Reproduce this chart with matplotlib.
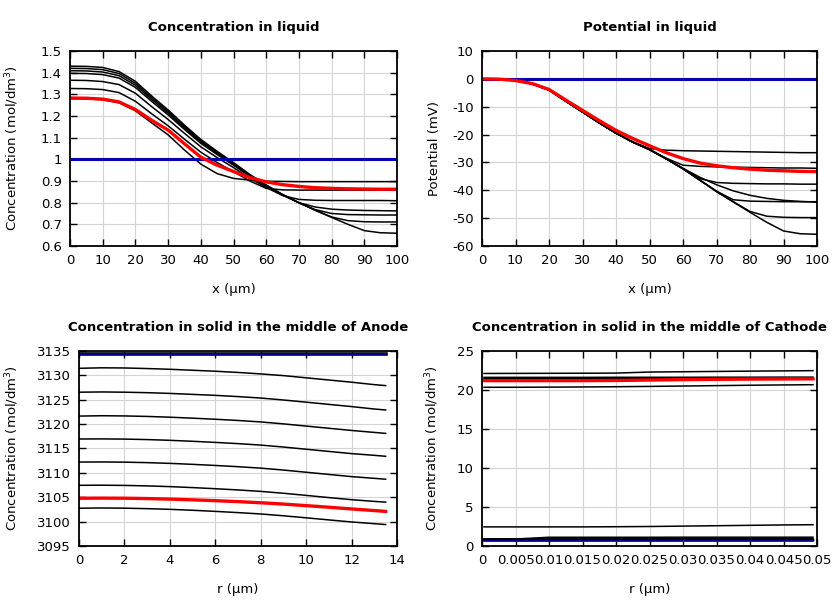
import numpy as np
import matplotlib
matplotlib.use('Agg')
import matplotlib.pyplot as plt
from matplotlib.ticker import FuncFormatter, MultipleLocator

# ---- Concentration in liquid (x in um) ----
x_liq = [0, 5, 10, 15, 20, 25, 30, 35, 40, 45, 50, 55, 60, 65, 70, 75, 80, 85, 90, 95, 100]
cl_black = [
    [1.430, 1.429, 1.424, 1.405, 1.360, 1.292, 1.228, 1.158, 1.092, 1.037, 0.985, 0.930, 0.882, 0.838, 0.800, 0.765, 0.732, 0.700, 0.671, 0.661, 0.659],
    [1.420, 1.419, 1.414, 1.396, 1.351, 1.284, 1.221, 1.152, 1.086, 1.032, 0.981, 0.927, 0.880, 0.837, 0.800, 0.765, 0.734, 0.717, 0.712, 0.711, 0.711],
    [1.409, 1.408, 1.403, 1.386, 1.342, 1.276, 1.213, 1.145, 1.080, 1.027, 0.977, 0.924, 0.878, 0.836, 0.799, 0.768, 0.750, 0.745, 0.744, 0.743, 0.743],
    [1.397, 1.396, 1.391, 1.375, 1.332, 1.267, 1.205, 1.138, 1.074, 1.022, 0.973, 0.921, 0.876, 0.835, 0.800, 0.780, 0.770, 0.766, 0.764, 0.763, 0.762],
    [1.365, 1.364, 1.359, 1.345, 1.305, 1.243, 1.184, 1.120, 1.058, 1.008, 0.962, 0.913, 0.870, 0.833, 0.815, 0.811, 0.810, 0.810, 0.810, 0.810, 0.809],
    [1.327, 1.326, 1.322, 1.308, 1.268, 1.210, 1.155, 1.093, 1.033, 0.985, 0.943, 0.900, 0.866, 0.859, 0.858, 0.858, 0.858, 0.858, 0.858, 0.858, 0.858],
    [1.280, 1.279, 1.275, 1.261, 1.224, 1.168, 1.113, 1.043, 0.978, 0.934, 0.912, 0.904, 0.899, 0.898, 0.897, 0.897, 0.897, 0.897, 0.897, 0.897, 0.897],
]
cl_red = [1.283, 1.282, 1.278, 1.265, 1.230, 1.180, 1.135, 1.072, 1.010, 0.973, 0.944, 0.916, 0.896, 0.883, 0.875, 0.869, 0.866, 0.864, 0.863, 0.862, 0.862]
cl_blue = [1.0] * len(x_liq)

# ---- Potential in liquid (mV) ----
phi_black = [
    [0, -0.1, -0.6, -1.8, -4.0, -8.0, -11.9, -15.8, -19.5, -22.6, -25.0, -25.6, -25.8, -25.9, -26.0, -26.1, -26.2, -26.3, -26.4, -26.5, -26.5],
    [0, -0.1, -0.6, -1.8, -4.0, -8.0, -11.9, -15.8, -19.5, -22.7, -25.3, -28.5, -31.0, -31.4, -31.6, -31.7, -31.8, -31.9, -32.0, -32.0, -32.1],
    [0, -0.1, -0.6, -1.8, -4.0, -8.0, -11.9, -15.8, -19.5, -22.7, -25.4, -28.7, -32.2, -35.8, -37.2, -37.5, -37.6, -37.7, -37.7, -37.8, -37.8],
    [0, -0.1, -0.6, -1.8, -4.0, -8.0, -11.9, -15.8, -19.5, -22.7, -25.4, -28.7, -32.1, -35.3, -38.0, -40.2, -41.8, -42.9, -43.6, -44.0, -44.3],
    [0, -0.1, -0.6, -1.8, -4.0, -8.0, -11.9, -15.8, -19.5, -22.7, -25.4, -28.7, -32.3, -36.3, -40.3, -43.4, -43.9, -44.0, -44.1, -44.1, -44.1],
    [0, -0.1, -0.6, -1.8, -4.0, -8.0, -11.9, -15.8, -19.5, -22.7, -25.4, -28.7, -32.3, -36.3, -40.4, -44.1, -47.6, -49.3, -49.7, -49.8, -49.8],
    [0, -0.1, -0.6, -1.8, -4.0, -8.0, -11.9, -15.8, -19.5, -22.7, -25.4, -28.7, -32.3, -36.4, -40.5, -44.2, -47.9, -51.5, -54.6, -55.6, -55.8],
]
phi_red = [0, -0.1, -0.6, -1.7, -3.8, -7.6, -11.3, -15.0, -18.5, -21.4, -24.0, -26.5, -28.6, -30.2, -31.2, -31.9, -32.4, -32.8, -33.0, -33.2, -33.3]
phi_blue = [0.0] * len(x_liq)

# ---- Solid concentration, anode middle (r in um) ----
r_an = [0, 1, 2, 3, 4, 5, 6, 7, 8, 9, 10, 11, 12, 13, 13.5]
ca_black = [
    [3131.45, 3131.55, 3131.52, 3131.40, 3131.25, 3131.05, 3130.85, 3130.60, 3130.30, 3129.95, 3129.50, 3129.05, 3128.60, 3128.10, 3127.90],
    [3126.55, 3126.60, 3126.55, 3126.45, 3126.30, 3126.10, 3125.90, 3125.65, 3125.35, 3124.95, 3124.50, 3124.05, 3123.60, 3123.10, 3122.90],
    [3121.65, 3121.72, 3121.68, 3121.58, 3121.42, 3121.22, 3121.00, 3120.75, 3120.45, 3120.05, 3119.60, 3119.15, 3118.70, 3118.30, 3118.10],
    [3116.95, 3116.97, 3116.93, 3116.83, 3116.68, 3116.48, 3116.25, 3116.00, 3115.70, 3115.30, 3114.85, 3114.40, 3113.95, 3113.60, 3113.40],
    [3112.22, 3112.24, 3112.20, 3112.10, 3111.95, 3111.75, 3111.52, 3111.27, 3110.97, 3110.58, 3110.13, 3109.68, 3109.23, 3108.88, 3108.70],
    [3107.45, 3107.47, 3107.43, 3107.33, 3107.18, 3106.98, 3106.75, 3106.50, 3106.20, 3105.82, 3105.38, 3104.93, 3104.50, 3104.15, 3104.00],
    [3102.75, 3102.80, 3102.76, 3102.66, 3102.52, 3102.33, 3102.10, 3101.85, 3101.57, 3101.20, 3100.78, 3100.35, 3099.93, 3099.58, 3099.40],
    [3134.30] * 15,
]
ca_red = [3104.80, 3104.82, 3104.80, 3104.73, 3104.62, 3104.47, 3104.30, 3104.10, 3103.87, 3103.60, 3103.28, 3102.95, 3102.60, 3102.27, 3102.10]
ca_blue = [3134.30] * 15

# ---- Solid concentration, cathode middle (r in um) ----
r_ca = [0.0003, 0.005, 0.01, 0.015, 0.02, 0.025, 0.03, 0.035, 0.04, 0.045, 0.0494]
cc_black = [
    [22.12, 22.13, 22.14, 22.15, 22.17, 22.30, 22.34, 22.38, 22.42, 22.45, 22.48],
    [21.62, 21.62, 21.62, 21.62, 21.63, 21.63, 21.63, 21.64, 21.64, 21.65, 21.65],
    [21.45, 21.45, 21.45, 21.45, 21.45, 21.47, 21.50, 21.52, 21.54, 21.55, 21.56],
    [20.35, 20.35, 20.37, 20.39, 20.42, 20.46, 20.51, 20.56, 20.61, 20.65, 20.68],
    [2.45, 2.45, 2.45, 2.45, 2.47, 2.50, 2.55, 2.60, 2.65, 2.70, 2.73],
    [0.85, 0.90, 1.12, 1.12, 1.12, 1.12, 1.13, 1.13, 1.13, 1.13, 1.13],
    [0.92, 0.92, 0.92, 0.92, 0.92, 0.92, 0.93, 0.93, 0.93, 0.93, 0.93],
    [0.78, 0.78, 0.78, 0.78, 0.78, 0.79, 0.79, 0.79, 0.79, 0.79, 0.79],
]
cc_red = [21.20, 21.20, 21.20, 21.20, 21.22, 21.28, 21.33, 21.37, 21.40, 21.42, 21.43]
cc_blue = [0.65] * len(r_ca)

blue = '#0000b4'
gfmt = FuncFormatter(lambda v, p: '%g' % v)

plt.rcParams['font.family'] = 'DejaVu Sans'
plt.rcParams['font.size'] = 9.5

fig = plt.figure(figsize=(8.4, 6), dpi=100)


def style(ax, title, xlabel, ylabel, ylab_x):
    ax.set_title(title, fontweight='bold', fontsize=9.5, pad=14.5)
    ax.set_xlabel(xlabel, labelpad=11)
    ax.set_ylabel(ylabel)
    ax.yaxis.set_label_coords(ylab_x, 0.5)
    ax.grid(True, color='#d4d4d4', lw=0.8)
    ax.set_axisbelow(True)
    ax.tick_params(direction='in', top=True, right=True, length=5, width=1, pad=6)
    for s in ax.spines.values():
        s.set_linewidth(1.3)
    ax.xaxis.set_major_formatter(gfmt)
    ax.yaxis.set_major_formatter(gfmt)


# top left
ax = fig.add_axes([70/840, 1-246/600, 327/840, 195/600])
for c in cl_black:
    ax.plot(x_liq, c, color='black', lw=1.1)
ax.plot(x_liq, cl_blue, color=blue, lw=2.2)
ax.plot(x_liq, cl_red, color='red', lw=2.4)
ax.set_xlim(0, 100)
ax.set_ylim(0.6, 1.5)
ax.xaxis.set_major_locator(MultipleLocator(10))
ax.yaxis.set_major_locator(MultipleLocator(0.1))
style(ax, 'Concentration in liquid', 'x (µm)', 'Concentration (mol/dm$^3$)', -0.15)

# top right
ax = fig.add_axes([482/840, 1-246/600, 335/840, 195/600])
for c in phi_black:
    ax.plot(x_liq, c, color='black', lw=1.1)
ax.plot(x_liq, phi_blue, color=blue, lw=2.2)
ax.plot(x_liq, phi_red, color='red', lw=2.4)
ax.set_xlim(0, 100)
ax.set_ylim(-60, 10)
ax.xaxis.set_major_locator(MultipleLocator(10))
ax.yaxis.set_major_locator(MultipleLocator(10))
style(ax, 'Potential in liquid', 'x (µm)', 'Potential (mV)', -0.122)

# bottom left
ax = fig.add_axes([79/840, 1-546/600, 318/840, 195/600])
for c in ca_black:
    ax.plot(r_an, c, color='black', lw=1.1)
ax.plot(r_an, ca_black[-1], color='black', lw=2.6)
ax.plot(r_an, ca_blue, color=blue, lw=1.2)
ax.plot(r_an, ca_red, color='red', lw=2.4)
ax.set_xlim(0, 14)
ax.set_ylim(3095, 3135)
ax.xaxis.set_major_locator(MultipleLocator(2))
ax.yaxis.set_major_locator(MultipleLocator(5))
style(ax, 'Concentration in solid in the middle of Anode', 'r (µm)', 'Concentration (mol/dm$^3$)', -0.182)

# bottom right
ax = fig.add_axes([482/840, 1-546/600, 335/840, 195/600])
for c in cc_black:
    ax.plot(r_ca, c, color='black', lw=1.1)
ax.plot(r_ca, cc_black[-1], color='black', lw=2.0)
ax.plot(r_ca, cc_blue, color=blue, lw=1.2)
ax.plot(r_ca, cc_red, color='red', lw=2.4)
ax.set_xlim(0, 0.05)
ax.set_ylim(0, 25)
ax.xaxis.set_major_locator(MultipleLocator(0.005))
ax.yaxis.set_major_locator(MultipleLocator(5))
style(ax, 'Concentration in solid in the middle of Cathode', 'r (µm)', 'Concentration (mol/dm$^3$)', -0.122)

fig.savefig('out.png', dpi=100)
